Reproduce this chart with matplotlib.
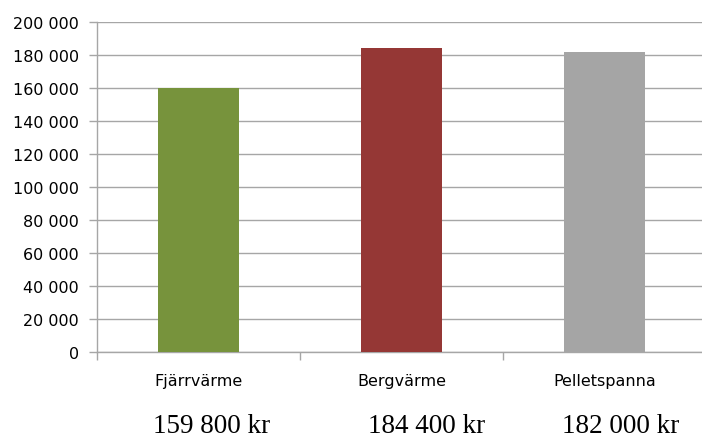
import matplotlib.pyplot as plt
from matplotlib.ticker import FuncFormatter

categories = ["Fjärrvärme", "Bergvärme", "Pelletspanna"]
costs = [159800, 184400, 182000]
colors = ["#77933C", "#953735", "#A5A5A5"]


def sv_thousands(v, pos=None):
    return f"{int(v):,}".replace(",", " ")


fig = plt.figure(figsize=(7.02, 4.39), dpi=100)
ax = fig.add_axes([97 / 702, 1 - 353 / 439, 609 / 702, 330 / 439])

x = list(range(len(categories)))
ax.bar(x, costs, width=0.4, color=colors, zorder=3)

ax.set_xlim(-0.5, len(categories) - 0.5)
ax.set_ylim(0, 200000)
ax.set_yticks(range(0, 200001, 20000))
ax.yaxis.set_major_formatter(FuncFormatter(sv_thousands))
ax.grid(axis="y", color="#A6A6A6", linewidth=1, zorder=0)

# category names centred under bars, tick marks between categories
ax.set_xticks(x)
ax.set_xticklabels(categories)
ax.set_xticks([i + 0.5 for i in range(-1, len(categories))], minor=True)
ax.tick_params(axis="x", which="major", length=0, pad=15, labelsize=11.5)
ax.tick_params(axis="x", which="minor", length=6, color="#A6A6A6", width=1)
ax.tick_params(axis="y", length=6, color="#A6A6A6", width=1, labelsize=11.5, pad=7)

for side in ["top", "right"]:
    ax.spines[side].set_visible(False)
for side in ["left", "bottom"]:
    ax.spines[side].set_color("#A6A6A6")
    ax.spines[side].set_linewidth(1)

# total cost written below each category (hand-placed, slightly right of centre)
shift_px = [13, 25, 16]
for i, v in enumerate(costs):
    ax.annotate(sv_thousands(v) + " kr", xy=(i, 0), xycoords="data",
                xytext=(shift_px[i], -74), textcoords="offset pixels",
                ha="center", va="center", fontsize=19.5,
                family="Liberation Serif", color="black")

fig.savefig("out.png", dpi=100)
